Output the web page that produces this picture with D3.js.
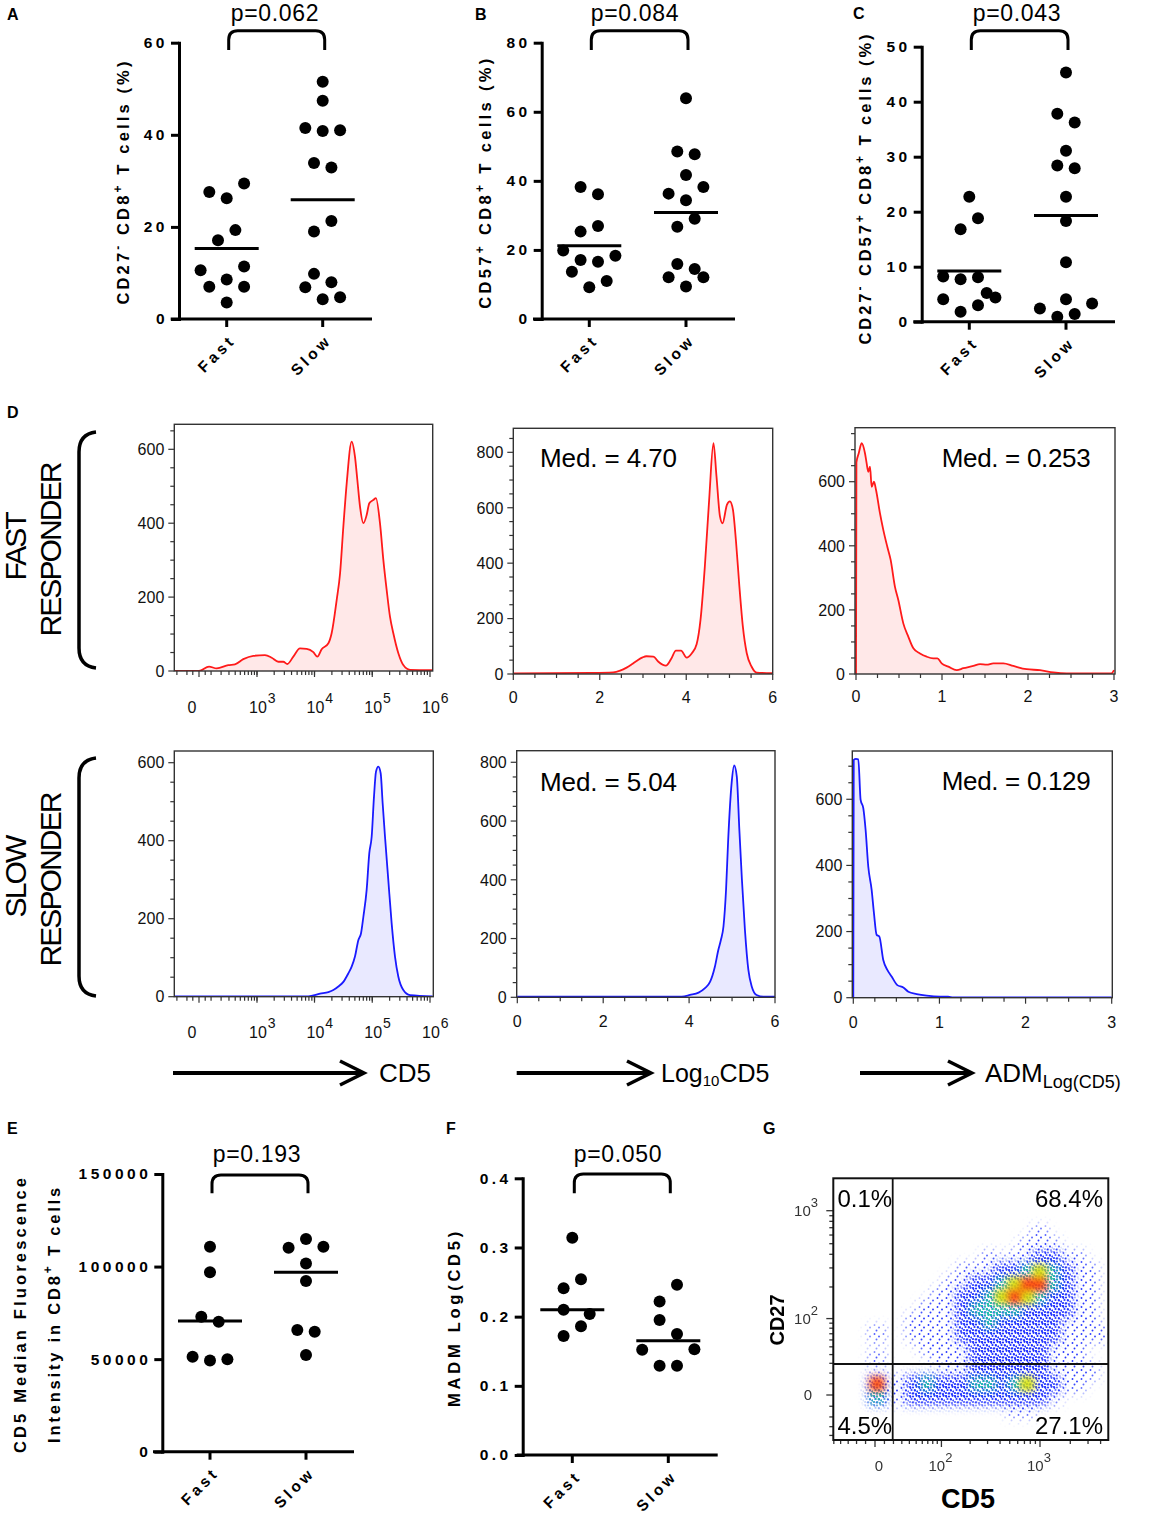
<!DOCTYPE html>
<html><head><meta charset="utf-8">
<script src="https://cdn.jsdelivr.net/npm/d3@7/dist/d3.min.js"></script>
<style>
html,body{margin:0;padding:0;background:#fff}
svg{display:block}
</style></head><body>
<svg id="fig" width="1165" height="1516" xmlns="http://www.w3.org/2000/svg"></svg>
<script>
const FONT = "Arial, 'Liberation Sans', Helvetica, sans-serif";
const groups = ["Fast", "Slow"];

// ---------- Panel A : CD27- CD8+ T cells (%)
const aFast = [27.6, 26.2, 29.4, 17.1, 19.3, 10.6, 11.4, 8.6, 7.0, 7.0, 3.6];
const aFastJitter = [-2, 0, 2, -1, 1, -3, 2, 0, -2, 2, 0];
const aSlow = [51.5, 47.4, 41.5, 40.8, 41.0, 33.9, 32.9, 21.3, 19.0, 9.8, 8.0, 6.9, 4.3, 4.7];
const aSlowJitter = [0, 0, -2, 0, 2, -1, 1, 1, -1, -1, 1, -2, 0, 2];
const aMeans = [15.3, 25.9];
const aTicks = [0, 20, 40, 60];

// ---------- Panel B : CD57+ CD8+ T cells (%)
const bFast = [38.2, 36.1, 25.3, 26.9, 19.8, 17.1, 16.6, 18.3, 13.7, 11.0, 9.2];
const bFastJitter = [-1, 1, -1, 1, -3, -1, 1, 3, -2, 2, 0];
const bSlow = [63.9, 48.5, 47.7, 41.7, 36.3, 38.2, 34.4, 26.7, 29.0, 15.9, 14.5, 12.1, 12.1, 9.4];
const bSlowJitter = [0, -1, 1, 0, -2, 2, 0, -1, 1, -1, 1, -2, 2, 0];
const bMeans = [21.2, 30.8];
const bTicks = [0, 20, 40, 60, 80];

// ---------- Panel C : CD27- CD57+ CD8+ T cells (%)
const cFast = [22.7, 18.8, 16.8, 8.2, 7.7, 8.1, 4.1, 5.2, 4.4, 3.0, 1.8];
const cFastJitter = [0, 1, -1, -3, -1, 1, -3, 2, 3, 1, -1];
const cSlow = [45.3, 37.8, 36.2, 31.1, 28.4, 27.9, 22.7, 18.3, 10.8, 4.1, 2.4, 3.3, 0.9, 1.4];
const cSlowJitter = [0, -1, 1, 0, -1, 1, 0, 0, 0, 0, -3, 3, -1, 1];
const cMeans = [9.2, 19.3];
const cTicks = [0, 10, 20, 30, 40, 50];

// ---------- Panel E : CD5 MFI
const eFast = [110700, 96900, 72900, 70200, 51300, 49200, 49900];
const eFastJitter = [0, 0, -1, 1, -2, 0, 2];
const eSlow = [114900, 110200, 110700, 101700, 92200, 65700, 64800, 52200];
const eSlowJitter = [0, -2, 2, 0, 0, -1, 1, 0];
const eMeans = [70600, 96900];
const eTicks = [0, 50000, 100000, 150000];

// ---------- Panel F : MADM Log(CD5)
const fFast = [0.314, 0.241, 0.254, 0.210, 0.204, 0.186, 0.172];
const fFastJitter = [0, -1, 1, -1, 2, 1, -1];
const fSlow = [0.246, 0.222, 0.195, 0.175, 0.152, 0.153, 0.129, 0.129];
const fSlowJitter = [1, -1, -1, 1, -3, 3, -1, 1];
const fMeans = [0.210, 0.165];
const fTicks = [0, 0.1, 0.2, 0.3, 0.4];

const pValues = ["p=0.062", "p=0.084", "p=0.043", "p=0.193", "p=0.050"];

// ---------- Panel D : histograms [value, count]
const cd5FastLin = [[-230,0],[0,0],[82,12],[153,7],[291,16],[396,18],[568,32],[860,41],[1380,43],[1810,36],[2360,25],[2880,25],[3380,19],[4300,39],[5610,61],[7310,60],[9550,51],[11200,39],[13300,59],[17400,75],[19800,102],[24200,192],[27700,264],[31600,391],[36100,508],[44000,621],[50200,580],[55200,517],[61400,445],[70200,400],[80000,422],[88900,454],[104400,463],[116100,468],[136100,400],[155600,301],[177800,219],[202800,147],[231700,102],[283100,48],[345100,16],[450800,3],[1110000,2]];
const cd5SlowLin = [[-230,1],[7800,1],[12450,8],[17400,12],[21200,17],[25900,26],[31600,38],[38600,60],[44000,77],[50200,103],[57400,145],[63800,162],[70200,205],[80000,274],[88900,368],[97700,410],[107200,513],[116100,577],[127400,590],[139900,573],[151400,496],[166300,410],[189700,299],[216800,188],[247700,103],[283100,51],[345100,17],[450800,4],[1110000,1]];
const cd5FastLog = [[0,2],[1.81,4],[2.31,6],[2.47,12],[2.62,23],[2.74,35],[2.85,47],[2.99,60],[3.08,64],[3.24,63],[3.35,45],[3.53,30],[3.66,57],[3.76,84],[3.88,84],[4.01,59],[4.13,75],[4.24,107],[4.33,195],[4.43,387],[4.53,628],[4.63,833],[4.70,713],[4.78,569],[4.84,544],[4.94,610],[5.01,623],[5.08,593],[5.15,481],[5.23,315],[5.31,171],[5.40,75],[5.51,27],[5.63,5],[6,3]];
const cd5SlowLog = [[0,2],[3.83,2],[4.02,8],[4.22,16],[4.37,31],[4.49,53],[4.60,104],[4.68,161],[4.74,195],[4.80,241],[4.86,365],[4.91,536],[4.99,729],[5.05,789],[5.11,752],[5.17,570],[5.23,400],[5.30,229],[5.38,93],[5.46,36],[5.57,8],[5.73,2],[6,2]];
const admFast = [[0,0],[0.005,660],[0.031,688],[0.066,720],[0.105,688],[0.124,657],[0.143,631],[0.163,647],[0.182,584],[0.209,600],[0.233,574],[0.279,501],[0.318,449],[0.364,397],[0.403,356],[0.453,272],[0.492,231],[0.550,158],[0.609,116],[0.667,80],[0.744,64],[0.822,54],[0.899,49],[0.946,49],[0.996,33],[1.074,23],[1.171,12],[1.248,18],[1.364,25],[1.442,31],[1.519,29],[1.597,33],[1.713,33],[1.829,25],[1.984,15],[2.140,12],[2.295,5],[2.45,2],[2.97,2],[3.0,12]];
const admSlow = [[0,0],[0.005,719],[0.031,722],[0.058,721],[0.085,598],[0.116,573],[0.143,507],[0.174,396],[0.213,326],[0.240,255],[0.271,190],[0.302,185],[0.348,114],[0.395,84],[0.445,64],[0.511,38],[0.581,31],[0.639,18],[0.736,11],[0.852,6],[1.007,3],[1.10,3],[1.16,1],[3.0,1]];
const medLabels = ["Med. = 4.70", "Med. = 0.253", "Med. = 5.04", "Med. = 0.129"];

// ---------- Panel G : density grid (22 cols x 21 rows over CD5 x CD27 frame), level 0-5
const gDensity = [
"0000000000000000000000",
"0000000000000000000000",
"0000000000000000000000",
"0000000000000000000000",
"0000000000000000100000",
"0000000000000001110000",
"0000000000001011221100",
"0000000000111223432110",
"0000000001122345532110",
"0000000011223454322110",
"0000000111233332222110",
"0000001111223222221110",
"0001001111222222221111",
"0000000111122222211100",
"0001000011122222211100",
"0000000001122222211110",
"0005112322233234221100",
"0003112222222222210000",
"0000000000000011000000",
"0000000000000000000000",
"0000000000000000000000"];
const quadrantLabels = ["0.1%", "68.4%", "4.5%", "27.1%"];

// ================= drawing =================
const svg = d3.select("#fig");
svg.append("rect").attr("width", 1165).attr("height", 1516).attr("fill", "#fff");
const defs = svg.append("defs");

function fitSpacing(t, target) {
  t.style("letter-spacing", "0px");
  const node = t.node();
  const len = node.getComputedTextLength();
  const n = node.textContent.length;
  t.style("letter-spacing", ((target - len) / Math.max(1, n - 1)) + "px");
}

function rotTitle(g, x, y, segs, size, len, weight) {
  const t = g.append("text").attr("transform", `translate(${x},${y}) rotate(-90)`)
    .attr("text-anchor", "middle").attr("font-family", FONT)
    .attr("font-weight", weight || "bold").attr("font-size", size).attr("fill", "#000");
  let sup = false;
  segs.forEach(([s, isSup]) => {
    const ts = t.append("tspan").text(s);
    if (isSup) ts.attr("font-size", size * 0.72);
    if (isSup && !sup) ts.attr("dy", -size * 0.45);
    if (!isSup && sup) ts.attr("dy", size * 0.45);
    sup = isSup;
  });
  if (len) fitSpacing(t, len);
  return t;
}

// panel letters
[["A", 7, 20], ["B", 475, 20], ["C", 853, 19], ["D", 7, 418], ["E", 7, 1134], ["F", 446, 1134], ["G", 763, 1134]]
  .forEach(([s, x, y]) => svg.append("text").attr("x", x).attr("y", y).text(s)
    .attr("font-family", FONT).attr("font-weight", "bold").attr("font-size", 16));

function dotPanel(c) {
  const g = svg.append("g");
  const y = d3.scaleLinear().domain([0, c.ticks[c.ticks.length - 1]]).range([c.yBottom, c.yTop]);
  const x = d3.scalePoint().domain(groups).range(c.cx);
  const jit = d3.scaleLinear().domain([0, 1]).range([0, 8.7]);
  const ya = g.append("g").attr("transform", `translate(${c.axisX},0)`)
    .call(d3.axisLeft(y).tickValues(c.ticks).tickFormat(c.fmt).tickSize(8).tickSizeOuter(0).tickPadding(3));
  ya.select(".domain").attr("stroke", "#000").attr("stroke-width", 3).attr("stroke-linecap", "square");
  ya.selectAll(".tick line").attr("stroke", "#000").attr("stroke-width", 3);
  ya.selectAll(".tick text").attr("font-family", FONT).attr("font-weight", "bold")
    .attr("font-size", 15.5).style("letter-spacing", "3.5px").attr("fill", "#000");
  g.append("line").attr("x1", c.xAxis[0]).attr("x2", c.xAxis[1]).attr("y1", y(0)).attr("y2", y(0))
    .attr("stroke", "#000").attr("stroke-width", 3);
  g.selectAll(null).data(groups).join("line")
    .attr("x1", d => x(d)).attr("x2", d => x(d)).attr("y1", y(0)).attr("y2", y(0) + 8)
    .attr("stroke", "#000").attr("stroke-width", 3);
  g.selectAll(null).data(groups).join("text")
    .attr("transform", d => `translate(${x(d) + 10},${y(0) + 22}) rotate(-45)`)
    .attr("text-anchor", "end").attr("font-family", FONT).attr("font-weight", "bold")
    .attr("font-size", 15.5).style("letter-spacing", "3.5px").text(d => d);
  [[c.fast, c.fastJ, "Fast"], [c.slow, c.slowJ, "Slow"]].forEach(([vals, js, grp]) => {
    g.selectAll(null).data(vals).join("circle")
      .attr("cx", (d, i) => x(grp) + jit(js[i])).attr("cy", d => y(d)).attr("r", 6).attr("fill", "#000");
  });
  g.selectAll(null).data(c.means).join("line")
    .attr("x1", (d, i) => x(groups[i]) - 32).attr("x2", (d, i) => x(groups[i]) + 32)
    .attr("y1", d => y(d)).attr("y2", d => y(d)).attr("stroke", "#000").attr("stroke-width", 3);
  const bx1 = x("Fast") + 2, bx2 = x("Slow") + 2, bt = c.bracket[0], bb = c.bracket[1], r = 9;
  g.append("path").attr("d", `M${bx1},${bb} L${bx1},${bt + r} Q${bx1},${bt} ${bx1 + r},${bt} L${bx2 - r},${bt} Q${bx2},${bt} ${bx2},${bt + r} L${bx2},${bb}`)
    .attr("fill", "none").attr("stroke", "#000").attr("stroke-width", 3);
  const pt = g.append("text").attr("x", c.pX).attr("y", c.pY).attr("text-anchor", "middle")
    .attr("font-family", FONT).attr("font-size", 23).text(c.p);
  fitSpacing(pt, 88);
  c.titles.forEach(tt => rotTitle(g, tt.x, tt.y, tt.segs, 16.5, tt.len));
}

dotPanel({fast: aFast, fastJ: aFastJitter, slow: aSlow, slowJ: aSlowJitter, means: aMeans, ticks: aTicks,
  fmt: d3.format("d"), axisX: 179, yBottom: 319, yTop: 42.7, cx: [226.7, 322.7], xAxis: [170.7, 372],
  bracket: [30.7, 50], pX: 275, pY: 21, p: pValues[0],
  titles: [{x: 129, y: 181.5, len: 243, segs: [["CD27", 0], ["-", 1], [" CD8", 0], ["+", 1], [" T cells (%)", 0]]}]});
dotPanel({fast: bFast, fastJ: bFastJitter, slow: bSlow, slowJ: bSlowJitter, means: bMeans, ticks: bTicks,
  fmt: d3.format("d"), axisX: 541.7, yBottom: 319, yTop: 42.7, cx: [589.3, 686], xAxis: [533, 735],
  bracket: [30.7, 50], pX: 635, pY: 21, p: pValues[1],
  titles: [{x: 491, y: 182, len: 250, segs: [["CD57", 0], ["+", 1], [" CD8", 0], ["+", 1], [" T cells (%)", 0]]}]});
dotPanel({fast: cFast, fastJ: cFastJitter, slow: cSlow, slowJ: cSlowJitter, means: cMeans, ticks: cTicks,
  fmt: d3.format("d"), axisX: 921.7, yBottom: 321.7, yTop: 46.7, cx: [969.3, 1066], xAxis: [913.3, 1115],
  bracket: [30.7, 50], pX: 1017, pY: 21, p: pValues[2],
  titles: [{x: 871, y: 188, len: 310, segs: [["CD27", 0], ["-", 1], [" CD57", 0], ["+", 1], [" CD8", 0], ["+", 1], [" T cells (%)", 0]]}]});
dotPanel({fast: eFast, fastJ: eFastJitter, slow: eSlow, slowJ: eSlowJitter, means: eMeans, ticks: eTicks,
  fmt: d3.format("d"), axisX: 162.3, yBottom: 1451.7, yTop: 1174, cx: [210, 306], xAxis: [153, 354],
  bracket: [1175, 1193.3], pX: 257, pY: 1162, p: pValues[3],
  titles: [{x: 26, y: 1314, len: 275, segs: [["CD5 Median Fluorescence", 0]]},
           {x: 59.5, y: 1314, len: 255, segs: [["Intensity in CD8", 0], ["+", 1], [" T cells", 0]]}]});
dotPanel({fast: fFast, fastJ: fFastJitter, slow: fSlow, slowJ: fSlowJitter, means: fMeans, ticks: fTicks,
  fmt: d3.format(".1f"), axisX: 522.7, yBottom: 1455, yTop: 1178.3, cx: [572.3, 668.3], xAxis: [516.7, 717.7],
  bracket: [1174, 1193.3], pX: 618, pY: 1162, p: pValues[4],
  titles: [{x: 459.5, y: 1317.5, len: 175, segs: [["MADM Log(CD5)", 0]]}]});

// ---------- D histograms
const LGW = 200;
const leftLin = d3.scaleLinear().domain([0, Math.asinh(1e6 / LGW)]).range([199, 430]);
const logicleX = v => leftLin(Math.asinh(v / LGW));
const leftMinor = [-200, -100, -50, 50];
for (let e = 2; e <= 5; e++) for (let k = 1; k <= 9; k++) leftMinor.push(k * Math.pow(10, e));

function histPanel(c) {
  const [x0, y0, x1, y1] = c.frame;
  const g = svg.append("g");
  const y = d3.scaleLinear().domain([0, c.yTop]).range([y1, y0]);
  const xf = c.xf;
  defs.append("clipPath").attr("id", "clip" + c.id).append("rect")
    .attr("x", x0).attr("y", y0).attr("width", x1 - x0).attr("height", y1 - y0);
  const area = d3.area().x(d => xf(d[0])).y0(y(0)).y1(d => y(d[1])).curve(d3.curveMonotoneX);
  g.append("path").datum(c.data).attr("clip-path", `url(#clip${c.id})`).attr("d", area).attr("fill", c.fill);
  g.append("path").datum(c.data).attr("clip-path", `url(#clip${c.id})`).attr("d", area.lineY1())
    .attr("fill", "none").attr("stroke", c.stroke).attr("stroke-width", 1.8);
  g.append("rect").attr("x", x0).attr("y", y0).attr("width", x1 - x0).attr("height", y1 - y0)
    .attr("fill", "none").attr("stroke", "#333").attr("stroke-width", 1.4);
  const yt = d3.range(0, c.yTop, 50);
  g.selectAll(null).data(yt).join("line").attr("x1", x0).attr("x2", d => x0 - (d % 200 === 0 ? 6 : 4))
    .attr("y1", d => y(d)).attr("y2", d => y(d)).attr("stroke", "#333").attr("stroke-width", 1.2);
  g.selectAll(null).data(yt.filter(d => d % 200 === 0)).join("text")
    .attr("x", x0 - 10).attr("y", d => y(d)).attr("dy", "0.36em").attr("text-anchor", "end")
    .attr("font-family", FONT).attr("font-size", 16).attr("fill", "#111").text(d => d);
  c.xTicks.forEach(t => {
    g.append("line").attr("x1", xf(t.v)).attr("x2", xf(t.v)).attr("y1", y1).attr("y2", y1 + (t.major ? 6 : 4))
      .attr("stroke", "#333").attr("stroke-width", 1.2);
  });
  c.xLabels.forEach(l => {
    const t = g.append("text").attr("x", xf(l.v) + (l.dx || 0)).attr("y", c.labY)
      .attr("text-anchor", l.exp ? "start" : "middle").attr("font-family", FONT).attr("font-size", 16).attr("fill", "#111");
    t.append("tspan").text(l.base);
    if (l.exp) t.append("tspan").attr("dy", -10).attr("dx", 1).attr("font-size", 14).text(l.exp);
  });
  if (c.med) {
    const t = g.append("text").attr("x", c.med[1]).attr("y", c.med[2]).attr("font-family", FONT)
      .attr("font-size", 26).attr("fill", "#000").text(c.med[0]);
    fitSpacing(t, c.med[3]);
  }
}

function linTicks(max, step, labStep) {
  return d3.range(0, max + 1e-9, step).map(v => ({v: +v.toFixed(3), major: Math.abs(v / labStep - Math.round(v / labStep)) < 1e-6}));
}
const leftTicks = [{v: 0, major: true}, {v: 1e3, major: true}, {v: 1e4, major: true}, {v: 1e5, major: true}, {v: 1e6, major: true}]
  .concat(leftMinor.map(v => ({v, major: false})));
const leftLabels = [{v: 0, base: "0", dx: -7}, {v: 1e3, base: "10", exp: "3", dx: -8}, {v: 1e4, base: "10", exp: "4", dx: -8},
  {v: 1e5, base: "10", exp: "5", dx: -8}, {v: 1e6, base: "10", exp: "6", dx: -8}];
const midLabels = [0, 2, 4, 6].map(v => ({v, base: String(v)}));
const rightLabels = [0, 1, 2, 3].map(v => ({v, base: String(v)}));

const RED = "#ff1a1a", REDF = "#ffe8e8", BLUE = "#1a1aff", BLUEF = "#e9e9ff";
histPanel({id: "d1", data: cd5FastLin, frame: [174.3, 424.3, 432.7, 671], yTop: 667.7, xf: logicleX,
  xTicks: leftTicks, xLabels: leftLabels, labY: 713, stroke: RED, fill: REDF});
histPanel({id: "d2", data: cd5FastLog, frame: [513.3, 428.3, 772.7, 674], yTop: 886.7,
  xf: d3.scaleLinear().domain([0, 6]).range([513.3, 772.7]), xTicks: linTicks(6, 0.5, 2), xLabels: midLabels, labY: 703,
  stroke: RED, fill: REDF, med: [medLabels[0], 540, 466.5, 137]});
histPanel({id: "d3", data: admFast, frame: [855, 427.7, 1115, 674], yTop: 768.5,
  xf: d3.scaleLinear().domain([0, 3]).range([856, 1114]), xTicks: linTicks(3, 0.25, 1), xLabels: rightLabels, labY: 702,
  stroke: RED, fill: REDF, med: [medLabels[1], 941.7, 466.5, 149]});
histPanel({id: "d4", data: cd5SlowLin, frame: [174.3, 751, 433.3, 996.7], yTop: 630, xf: logicleX,
  xTicks: leftTicks, xLabels: leftLabels, labY: 1038, stroke: BLUE, fill: BLUEF});
histPanel({id: "d5", data: cd5SlowLog, frame: [516.7, 750.7, 775, 997.3], yTop: 839.4,
  xf: d3.scaleLinear().domain([0, 6]).range([517.3, 775]), xTicks: linTicks(6, 0.5, 2), xLabels: midLabels, labY: 1027,
  stroke: BLUE, fill: BLUEF, med: [medLabels[2], 540, 790.5, 137]});
histPanel({id: "d6", data: admSlow, frame: [852.3, 751, 1112.3, 997.7], yTop: 746,
  xf: d3.scaleLinear().domain([0, 3]).range([853.3, 1111.7]), xTicks: linTicks(3, 0.25, 1), xLabels: rightLabels, labY: 1028,
  stroke: BLUE, fill: BLUEF, med: [medLabels[3], 941.7, 790, 149]});

// row labels + brackets
function rowLabel(cy, word) {
  const t1 = svg.append("text").attr("transform", `translate(26,${cy}) rotate(-90)`).attr("text-anchor", "middle")
    .attr("font-family", FONT).attr("font-size", 30).text(word);
  fitSpacing(t1, word === "FAST" ? 69 : 83);
  const t2 = svg.append("text").attr("transform", `translate(61,${cy + 3}) rotate(-90)`).attr("text-anchor", "middle")
    .attr("font-family", FONT).attr("font-size", 30).text("RESPONDER");
  fitSpacing(t2, 175);
}
rowLabel(547, "FAST");
rowLabel(877, "SLOW");
function bracketLeft(top, bot) {
  svg.append("path").attr("d", `M96,${top} Q79,${top + 2} 79,${top + 20} L79,${bot - 20} Q79,${bot - 2} 96,${bot}`)
    .attr("fill", "none").attr("stroke", "#000").attr("stroke-width", 3.5);
}
bracketLeft(432, 668);
bracketLeft(758, 996);

// arrows
function arrow(xa, xb, yy) {
  svg.append("line").attr("x1", xa).attr("x2", xb - 2).attr("y1", yy).attr("y2", yy).attr("stroke", "#000").attr("stroke-width", 4);
  svg.append("path").attr("d", `M${xb - 24},${yy - 12} L${xb},${yy} L${xb - 24},${yy + 12}`)
    .attr("fill", "none").attr("stroke", "#000").attr("stroke-width", 3.5);
}
arrow(173, 364, 1073);
arrow(516.7, 651, 1073);
arrow(860, 972, 1073);
svg.append("text").attr("x", 379).attr("y", 1082).attr("font-family", FONT).attr("font-size", 26).text("CD5");
{
  const t = svg.append("text").attr("x", 661).attr("y", 1082).attr("font-family", FONT).attr("font-size", 25);
  t.append("tspan").text("Log");
  t.append("tspan").attr("font-size", 15).attr("dy", 4).text("10");
  t.append("tspan").attr("font-size", 25).attr("dy", -4).text("CD5");
}
{
  const t = svg.append("text").attr("x", 985).attr("y", 1082).attr("font-family", FONT).attr("font-size", 26);
  t.append("tspan").text("ADM");
  t.append("tspan").attr("font-size", 18).attr("dy", 6).text("Log(CD5)");
}

// ---------- G : pseudocolor dot plot
const GF = [833.3, 1178.3, 1108.3, 1440];
const gcx = d3.scaleLinear().domain([0, 22]).range([GF[0], GF[2]]);
const gcy = d3.scaleLinear().domain([0, 21]).range([GF[1], GF[3]]);
const cells = [];
gDensity.forEach((row, j) => row.split("").forEach((ch, i) => { if (+ch > 0) cells.push({i, j, v: +ch}); }));
cells.sort((a, b) => a.v - b.v);
defs.append("clipPath").attr("id", "gclip").append("rect").attr("x", GF[0]).attr("y", GF[1]).attr("width", GF[2] - GF[0]).attr("height", GF[3] - GF[1]);
function blurFilter(id, sd) {
  defs.append("filter").attr("id", id).attr("x", "-30%").attr("y", "-30%").attr("width", "160%").attr("height", "160%")
    .append("feGaussianBlur").attr("stdDeviation", sd);
}
blurFilter("gb1", 5); blurFilter("gb2", 3.5);
function maskTile(id, pts, rr) {
  const p = defs.append("pattern").attr("id", id + "p").attr("patternUnits", "userSpaceOnUse").attr("width", 9).attr("height", 9);
  pts.forEach(([x, y]) => p.append("circle").attr("cx", x).attr("cy", y).attr("r", rr).attr("fill", "#fff"));
  defs.append("mask").attr("id", id).attr("maskUnits", "userSpaceOnUse")
    .attr("x", GF[0]).attr("y", GF[1]).attr("width", GF[2] - GF[0]).attr("height", GF[3] - GF[1])
    .append("rect").attr("x", GF[0]).attr("y", GF[1]).attr("width", GF[2] - GF[0]).attr("height", GF[3] - GF[1]).attr("fill", `url(#${id}p)`);
}
maskTile("mSparse", [[1.5, 2], [6, 4.5], [3.5, 7.5]], 0.95);
maskTile("mDense", [[1, 1], [4, 1.5], [7.5, 0.8], [2.5, 4], [5.8, 4.2], [8.3, 5.5], [1, 7], [4.3, 7.3], [7, 8]], 1.1);
const gG = svg.append("g").attr("clip-path", "url(#gclip)");
const cw = gcx(1) - gcx(0), chh = gcy(1) - gcy(0);
function cellRects(sel, data, pad) {
  return sel.selectAll("rect").data(data).join("rect")
    .attr("x", d => gcx(d.i) - pad).attr("y", d => gcy(d.j) - pad).attr("width", cw + 2 * pad).attr("height", chh + 2 * pad);
}
cellRects(gG.append("g").attr("mask", "url(#mSparse)").append("g").attr("filter", "url(#gb1)"), cells, 3)
  .attr("fill", "#2233ff").attr("opacity", d => d.v === 1 ? 0.9 : 1);
cellRects(gG.append("g").attr("mask", "url(#mDense)").append("g").attr("filter", "url(#gb1)"), cells.filter(d => d.v >= 2), 2.5)
  .attr("fill", "#1f2eff");
const hotColor = {3: "#20d0a0", 4: "#d6e400", 5: "#ff4400"};
cellRects(gG.append("g").attr("mask", "url(#mDense)").append("g").attr("filter", "url(#gb2)"), cells.filter(d => d.v === 3), 1)
  .attr("fill", hotColor[3]);
cellRects(gG.append("g").attr("filter", "url(#gb2)"), cells.filter(d => d.v >= 4), 1)
  .attr("fill", d => hotColor[d.v]).attr("opacity", 0.9);

// G axes
const gxLin = d3.scaleLinear().domain([0, Math.asinh(1000 / 46)]).range([875, 1040]);
const gxs = v => gxLin(Math.asinh(v / 46));
const gyLin = d3.scaleLinear().domain([0, Math.asinh(1000 / 42)]).range([1395, 1210.7]);
const gys = v => gyLin(Math.asinh(v / 42));
const gTickVals = [-50, -40, -30, -20, -10, 0, 10, 20, 30, 40, 50, 60, 70, 80, 90];
for (let e = 2; e <= 3; e++) for (let k = 1; k <= 9; k++) gTickVals.push(k * Math.pow(10, e));
const isMajor = v => v === 0 || v === 100 || v === 1000;
gTickVals.filter(v => gxs(v) > GF[0] && gxs(v) < GF[2]).forEach(v => {
  svg.append("line").attr("x1", gxs(v)).attr("x2", gxs(v)).attr("y1", GF[3]).attr("y2", GF[3] + (isMajor(v) ? 7 : 4)).attr("stroke", "#333").attr("stroke-width", 1.3);
});
gTickVals.filter(v => gys(v) > GF[1] && gys(v) < GF[3]).forEach(v => {
  svg.append("line").attr("y1", gys(v)).attr("y2", gys(v)).attr("x1", GF[0]).attr("x2", GF[0] - (isMajor(v) ? 7 : 4)).attr("stroke", "#333").attr("stroke-width", 1.3);
});
[[0, "0", null], [100, "10", "2"], [1000, "10", "3"]].forEach(([v, b, e]) => {
  const t = svg.append("text").attr("x", gxs(v) + (e ? -1 : 4)).attr("y", 1471).attr("text-anchor", "middle")
    .attr("font-family", FONT).attr("font-size", 15).attr("fill", "#333");
  t.append("tspan").text(b);
  if (e) t.append("tspan").attr("dy", -9).attr("font-size", 13).text(e);
  const s = svg.append("text").attr("x", 818).attr("y", gys(v) + 5).attr("text-anchor", "end")
    .attr("font-family", FONT).attr("font-size", 15).attr("fill", "#333");
  if (e) { s.append("tspan").text(b); s.append("tspan").attr("dy", -9).attr("font-size", 13).text(e); }
  else { s.attr("x", 812).text(b); }
});
svg.append("rect").attr("x", GF[0]).attr("y", GF[1]).attr("width", GF[2] - GF[0]).attr("height", GF[3] - GF[1])
  .attr("fill", "none").attr("stroke", "#111").attr("stroke-width", 2);
svg.append("line").attr("x1", 892.7).attr("x2", 892.7).attr("y1", GF[1]).attr("y2", GF[3]).attr("stroke", "#111").attr("stroke-width", 1.8);
svg.append("line").attr("x1", GF[0]).attr("x2", GF[2]).attr("y1", 1364).attr("y2", 1364).attr("stroke", "#111").attr("stroke-width", 1.8);
[[quadrantLabels[0], 837.5, 1207, "start"], [quadrantLabels[1], 1103, 1207, "end"], [quadrantLabels[2], 837.5, 1434, "start"], [quadrantLabels[3], 1103, 1434, "end"]]
  .forEach(([s, x, y, a]) => svg.append("text").attr("x", x).attr("y", y).attr("text-anchor", a)
    .attr("font-family", FONT).attr("font-size", 24).attr("fill", "#000").text(s));
svg.append("text").attr("transform", "translate(784,1320) rotate(-90)").attr("text-anchor", "middle")
  .attr("font-family", FONT).attr("font-weight", "bold").attr("font-size", 20).text("CD27");
svg.append("text").attr("x", 968).attr("y", 1508).attr("text-anchor", "middle")
  .attr("font-family", FONT).attr("font-weight", "bold").attr("font-size", 27).text("CD5");
</script>
</body></html>
